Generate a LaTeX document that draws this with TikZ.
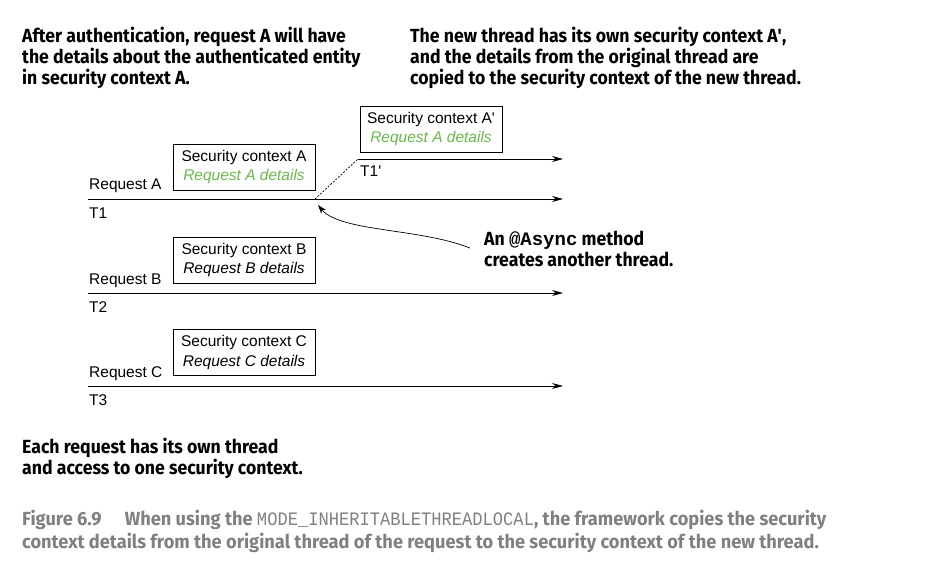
\documentclass[tikz,border=0pt]{standalone}
\usepackage{fontspec}
\setmainfont{Liberation Sans}
\newfontfamily\notefont[FakeStretch=0.93]{Fira Sans}
\newfontfamily\capfont[FakeStretch=0.96]{Fira Sans}
\newfontfamily\codefont{Liberation Mono}
\newfontfamily\capcodefont[FakeStretch=0.9]{Liberation Mono}
\usetikzlibrary{arrows.meta}
\definecolor{detailgreen}{RGB}{104,186,74}
\definecolor{captiongray}{RGB}{128,128,128}
\tikzset{
    thread/.style={line width=0.9pt,-{Stealth[length=11pt,width=6pt]}},
    ctxbox/.style={draw,line width=0.8pt,minimum width=142pt,minimum height=46pt,inner sep=0pt,align=center,font=\fontsize{15.5}{19.5}\selectfont},
    lbl/.style={inner sep=0pt,anchor=base west,font=\fontsize{15.5}{18}\selectfont},
    note/.style={inner sep=0pt,anchor=north west,align=left,font=\notefont\bfseries\fontsize{19}{21}\selectfont},
}

\begin{document}
\begin{tikzpicture}[x=1pt,y=-1pt]
\useasboundingbox (0,0) rectangle (930,565);

% notes
\node[note] (noteA) at (22,27) {After authentication, request A will have\\the details about the authenticated entity\\in security context A.};
\node[note] (noteNew) at (410,27) {The new thread has its own security context A\textquotesingle,\\and the details from the original thread are\\copied to the security context of the new thread.};
\node[note] (noteAsync) at (484,231) {An {\codefont @Async} method\\creates another thread.};
\node[note] (noteEach) at (22,438) {Each request has its own thread\\and access to one security context.};

% request A and the new thread
\coordinate (startA) at (88,199);
\coordinate (endA) at (563,199);
\coordinate (fork) at (315,199);
\coordinate (startNew) at (358,159);
\coordinate (endNew) at (563,159);
\draw[thread] (startA) -- (endA);
\draw[line width=0.7pt,dash pattern=on 2pt off 1.5pt] (fork) -- (startNew);
\draw[thread] (startNew) -- (endNew);
\node[lbl] (reqA) at (89,189) {Request A};
\node[lbl] (tA) at (89,218) {T1};
\node[lbl] (tNew) at (360,176) {T1\textquotesingle};
\node[ctxbox] (ctxA) at (244,167) {Security context A\\\textcolor{detailgreen}{\itshape Request A details}};
\node[ctxbox] (ctxNew) at (431,129) {Security context A\textquotesingle\\\textcolor{detailgreen}{\itshape Request A details}};

% request B
\coordinate (startB) at (88,293);
\coordinate (endB) at (563,293);
\draw[thread] (startB) -- (endB);
\node[lbl] (reqB) at (89,284) {Request B};
\node[lbl] (tB) at (89,312) {T2};
\node[ctxbox] (ctxB) at (244,260) {Security context B\\{\itshape Request B details}};

% request C
\coordinate (startC) at (88,386);
\coordinate (endC) at (563,386);
\draw[thread] (startC) -- (endC);
\node[lbl] (reqC) at (89,377) {Request C};
\node[lbl] (tC) at (89,405) {T3};
\node[ctxbox] (ctxC) at (244,352.5) {Security context C\\{\itshape Request C details}};

% callout
\draw[line width=0.7pt,-{Stealth[length=9pt,width=6pt]}] ([xshift=-14pt,yshift=1pt]noteAsync.west) .. controls (420,228) and (340,232) .. ([shift={(3,6)}]fork);

% caption
\node[inner sep=0pt,anchor=north west,align=left,text=captiongray,font=\capfont\bfseries\fontsize{19}{23}\selectfont] (caption) at (22,510) {Figure 6.9\quad\ When using the {\capcodefont\mdseries MODE\_INHERITABLETHREADLOCAL}, the framework copies the security\\context details from the original thread of the request to the security context of the new thread.};
\end{tikzpicture}
\end{document}
